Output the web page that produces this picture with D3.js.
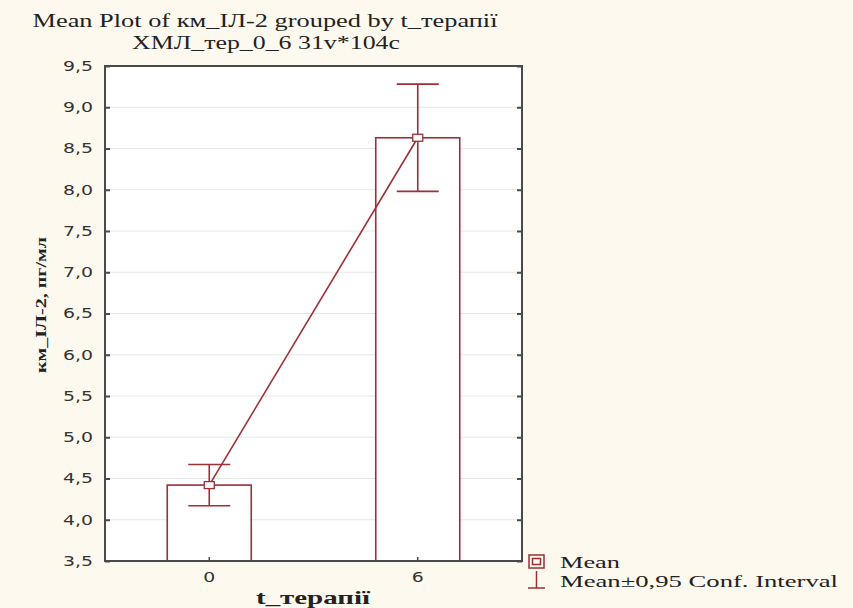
<!DOCTYPE html>
<html>
<head>
<meta charset="utf-8">
<script src="https://cdn.jsdelivr.net/npm/d3@7"></script>
<style>
  html, body { margin: 0; padding: 0; background: #fdf9ee; }
  svg { display: block; }
</style>
</head>
<body>
<svg id="chart" width="853" height="608"></svg>
<script>
// data
const groups = ["0", "6"];
const means = [4.42, 8.63];
const ciLow = [4.17, 7.98];
const ciHigh = [4.67, 9.28];
const yTicks = [3.5, 4.0, 4.5, 5.0, 5.5, 6.0, 6.5, 7.0, 7.5, 8.0, 8.5, 9.0, 9.5];

const red = "#9b3036";
const svg = d3.select("#chart");
const pL = 105, pR = 522, pT = 66, pB = 561;

let x = d3.scaleBand().domain(groups).range([pL, pR]).padding(0);
let y = d3.scaleLinear().domain([3.5, 9.5]).range([pB, pT]);
const fmt = d => d3.format(".1f")(d).replace(".", ",");

// plot area
svg.append("rect").attr("x", pL).attr("y", pT)
  .attr("width", pR - pL).attr("height", pB - pT).attr("fill", "#fff");

// grid
svg.append("g").selectAll("line").data(yTicks.slice(1, -1)).join("line")
  .attr("x1", pL).attr("x2", pR)
  .attr("y1", d => y(d)).attr("y2", d => y(d))
  .attr("stroke", "#e6e6e6").attr("stroke-width", 1);

// bars
const bw = 84;
const cx = d => x(d) + x.bandwidth() / 2;
svg.append("g").selectAll("rect").data(groups).join("rect")
  .attr("x", d => cx(d) - bw / 2)
  .attr("y", (d, i) => y(means[i]))
  .attr("width", bw)
  .attr("height", (d, i) => pB - y(means[i]))
  .attr("fill", "#fff").attr("stroke", red).attr("stroke-width", 1.6);

// error bars
const eb = svg.append("g").attr("stroke", red).attr("stroke-width", 1.6);
groups.forEach((g, i) => {
  eb.append("line").attr("x1", cx(g)).attr("x2", cx(g))
    .attr("y1", y(ciLow[i])).attr("y2", y(ciHigh[i]));
  [ciLow[i], ciHigh[i]].forEach(v => {
    eb.append("line").attr("x1", cx(g) - 21).attr("x2", cx(g) + 21)
      .attr("y1", y(v)).attr("y2", y(v));
  });
});

// mean line
svg.append("path")
  .datum(groups)
  .attr("d", d3.line().x(d => cx(d)).y((d, i) => y(means[i])))
  .attr("fill", "none").attr("stroke", red).attr("stroke-width", 1.6);

// mean markers
svg.append("g").selectAll("rect").data(groups).join("rect")
  .attr("x", d => cx(d) - 5).attr("y", (d, i) => y(means[i]) - 3.5)
  .attr("width", 10).attr("height", 7)
  .attr("fill", "#fff").attr("stroke", red).attr("stroke-width", 1.3);

// frame
svg.append("rect").attr("x", pL).attr("y", pT)
  .attr("width", pR - pL).attr("height", pB - pT)
  .attr("fill", "none").attr("stroke", "#4a4a4a").attr("stroke-width", 2);

// axes
const sans = "'DejaVu Sans', Verdana, sans-serif";
const yAxis = d3.axisLeft(y).tickValues(yTicks).tickFormat(fmt).tickSize(-5).tickPadding(12);
const ga = svg.append("g").attr("transform", `translate(${pL},0)`).call(yAxis);
ga.select(".domain").remove();
ga.selectAll(".tick line").attr("stroke", "#4a4a4a").attr("stroke-width", 2);
ga.selectAll("text").attr("font-family", sans)
  .attr("font-size", 14).attr("fill", "#333")
  .attr("textLength", 30).attr("lengthAdjust", "spacingAndGlyphs");

const gr = svg.append("g").attr("transform", `translate(${pR},0)`)
  .call(d3.axisRight(y).tickValues(yTicks).tickSize(-5).tickFormat(""));
gr.select(".domain").remove();
gr.selectAll(".tick line").attr("stroke", "#4a4a4a").attr("stroke-width", 2);

const gx = svg.append("g").attr("transform", `translate(0,${pB})`)
  .call(d3.axisBottom(x).tickSize(-4).tickPadding(11));
gx.select(".domain").remove();
gx.selectAll(".tick line").attr("stroke", "#4a4a4a").attr("stroke-width", 1.5);
gx.selectAll("text").attr("font-family", sans)
  .attr("font-size", 14).attr("fill", "#333")
  .attr("textLength", 12).attr("lengthAdjust", "spacingAndGlyphs");

// titles
const serif = "'Liberation Serif', 'Times New Roman', serif";
function label(xp, yp, txt, size, len, bold) {
  return svg.append("text").attr("x", xp).attr("y", yp).attr("text-anchor", "middle")
    .attr("font-family", serif).attr("font-size", size)
    .attr("font-weight", bold ? "bold" : "normal").attr("fill", "#222")
    .attr("textLength", len).attr("lengthAdjust", "spacingAndGlyphs")
    .text(txt);
}
label(265, 27, "Mean Plot of км_IЛ-2 grouped by  t_терапії", 18, 465);
label(266, 49, "ХМЛ_тер_0_6 31v*104c", 18, 268);
label(313, 604, "t_терапії", 19, 114, true);
label(0, 0, "км_IЛ-2, пг/мл", 15, 136, true)
  .attr("transform", "translate(46,305) rotate(-90)");

// legend
const lg = svg.append("g").attr("stroke", red).attr("stroke-width", 1.5).attr("fill", "none");
lg.append("rect").attr("x", 529).attr("y", 555).attr("width", 15).attr("height", 13);
lg.append("rect").attr("x", 532.5).attr("y", 558.5).attr("width", 8).attr("height", 6);
lg.append("line").attr("x1", 536.5).attr("x2", 536.5).attr("y1", 571).attr("y2", 588);
lg.append("line").attr("x1", 528).attr("x2", 545).attr("y1", 588).attr("y2", 588);
const lt = (yp, txt, len) => svg.append("text").attr("x", 560).attr("y", yp)
  .attr("font-family", serif).attr("font-size", 16).attr("fill", "#222")
  .attr("textLength", len).attr("lengthAdjust", "spacingAndGlyphs").text(txt);
lt(568, "Mean", 60);
lt(587, "Mean±0,95 Conf. Interval", 278);
</script>
</body>
</html>
